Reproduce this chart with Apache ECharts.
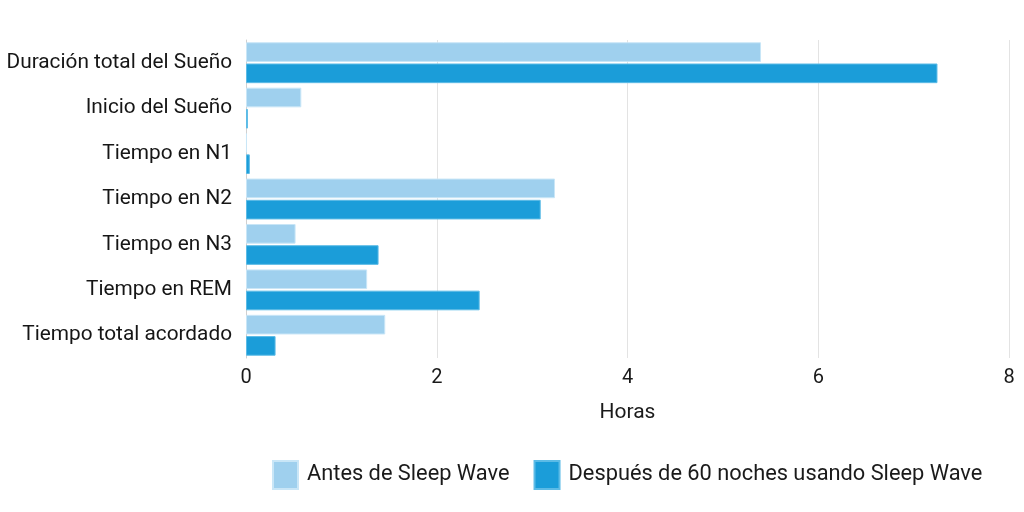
<!DOCTYPE html>
<html><head><meta charset="utf-8">
<script src="https://cdn.jsdelivr.net/npm/echarts@6/dist/echarts.min.js"></script>
<style>html,body{margin:0;padding:0;background:#fff}#c{width:1024px;height:512px}</style>
</head><body><div id="c"></div>
<script>
const categories = ["Duración total del Sueño","Inicio del Sueño","Tiempo en N1","Tiempo en N2","Tiempo en N3","Tiempo en REM","Tiempo total acordado"];
const antes = [5.40, 0.58, 0.01, 3.24, 0.52, 1.27, 1.46];
const despues = [7.25, 0.02, 0.04, 3.09, 1.39, 2.45, 0.31];
const seriesNames = ["Antes de Sleep Wave","Después de 60 noches usando Sleep Wave"];
const xTicks = [0, 2, 4, 6, 8];

const chart = echarts.init(document.getElementById('c'), null, {renderer:'canvas'});
const font = 'Roboto, "Noto Sans", sans-serif';
chart.setOption({
  animation:false,
  textStyle:{fontFamily:font},
  grid:{left:246, right:15, top:40, bottom:154, containLabel:false},
  xAxis:{type:'value', min:xTicks[0], max:xTicks[xTicks.length-1], interval:2,
    name:'Horas', nameLocation:'middle', nameGap:44,
    nameTextStyle:{fontSize:21, color:'#1a1a1a', fontFamily:font},
    axisLabel:{fontSize:20, color:'#1a1a1a', margin:10, fontFamily:font},
    axisLine:{show:false}, axisTick:{show:false},
    splitLine:{show:true, lineStyle:{color:'#e3e3e3', width:1}}},
  yAxis:{type:'category', data:categories, inverse:true,
    axisLabel:{fontSize:20.8, color:'#161616', margin:14, fontFamily:font},
    axisLine:{show:true, lineStyle:{color:'#d0d0d0'}}, axisTick:{show:false}},
  legend:{left:267, top:455, itemWidth:25, itemHeight:28, itemGap:24,
    textStyle:{fontSize:21.8, color:'#1a1a1a', fontFamily:font, padding:[0,0,0,4]}, icon:'rect',
    data:seriesNames},
  series:[
    {name:seriesNames[0], type:'bar', data:antes, barGap:'8%', barCategoryGap:'10%',
     itemStyle:{color:'#9fd0ee', borderColor:'#c9e6f7', borderWidth:1}},
    {name:seriesNames[1], type:'bar', data:despues,
     itemStyle:{color:'#1b9dd9', borderColor:'#5cbbe6', borderWidth:1}}
  ]
});
</script></body></html>
